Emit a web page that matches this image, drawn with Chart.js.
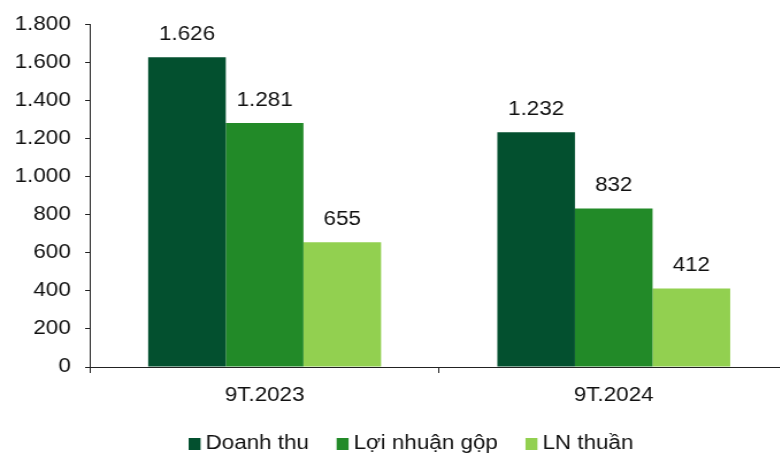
<!DOCTYPE html>
<html>
<head>
<meta charset="utf-8">
<script src="https://cdn.jsdelivr.net/npm/chart.js@4/dist/chart.umd.min.js"></script>
<style>
  html, body { margin: 0; padding: 0; background: #fff; overflow: hidden; }
  #wrap { position: relative; width: 790px; height: 455px; overflow: hidden; }
  #c { display: block; transform: scaleX(1.15); transform-origin: 0 0; }
</style>
</head>
<body>
<div id="wrap"><canvas id="c" width="687" height="455"></canvas></div>
<script>
const categories = ["9T.2023", "9T.2024"];
const seriesNames = ["Doanh thu", "Lợi nhuận gộp", "LN thuần"];
const doanhThu = [1626, 1232];
const loiNhuanGop = [1281, 832];
const lnThuan = [655, 412];
const seriesColors = ["#03502F", "#228A28", "#92D050"];
const yMin = 0, yMax = 1800, yStep = 200;

function fmt(v) {
  return String(Math.round(v)).replace(/\B(?=(\d{3})+(?!\d))/g, ".");
}

const FONT = "'Liberation Sans', Arial, sans-serif";
const FS = 19.5;

const valueLabels = {
  id: "valueLabels",
  afterDatasetsDraw(chart) {
    const ctx = chart.ctx;
    ctx.save();
    ctx.font = FS + "px " + FONT;
    ctx.fillStyle = "#111";
    ctx.textAlign = "center";
    ctx.textBaseline = "bottom";
    chart.data.datasets.forEach((ds, i) => {
      chart.getDatasetMeta(i).data.forEach((bar, j) => {
        ctx.fillText(fmt(ds.data[j]), bar.x, bar.y - 13);
      });
    });
    ctx.restore();
  }
};

const customLegend = {
  id: "customLegend",
  afterDraw(chart) {
    const ctx = chart.ctx;
    ctx.save();
    ctx.font = FS + "px " + FONT;
    ctx.textBaseline = "middle";
    ctx.textAlign = "left";
    const boxW = 10.4, boxH = 12, gapText = 4.3, gapItem = 24;
    const widths = seriesNames.map(n => boxW + gapText + ctx.measureText(n).width);
    const total = widths.reduce((a, b) => a + b, 0) + gapItem * (seriesNames.length - 1);
    const cx = 357.4;
    const cy = 444;
    let x = cx - total / 2;
    seriesNames.forEach((n, i) => {
      ctx.fillStyle = seriesColors[i];
      ctx.fillRect(x, cy - boxH / 2, boxW, boxH);
      ctx.fillStyle = "#111";
      ctx.fillText(n, x + boxW + gapText, cy);
      x += widths[i] + gapItem;
    });
    ctx.restore();
  }
};

new Chart(document.getElementById("c"), {
  type: "bar",
  data: {
    labels: categories,
    datasets: [
      { label: seriesNames[0], data: doanhThu, backgroundColor: seriesColors[0] },
      { label: seriesNames[1], data: loiNhuanGop, backgroundColor: seriesColors[1] },
      { label: seriesNames[2], data: lnThuan, backgroundColor: seriesColors[2] }
    ]
  },
  options: {
    responsive: false,
    animation: false,
    devicePixelRatio: 1,
    layout: { padding: { top: 16, right: 1.5, bottom: 50, left: 0 } },
    datasets: { bar: { categoryPercentage: 0.667, barPercentage: 1.0, borderWidth: 0 } },
    plugins: {
      legend: { display: false },
      tooltip: { enabled: false }
    },
    scales: {
      x: {
        grid: { display: true, drawOnChartArea: false, drawTicks: true, tickLength: 6, offset: true, color: "#222", lineWidth: 1 },
        border: { display: true, color: "#222", width: 1 },
        ticks: { color: "#111", font: { size: FS, family: FONT }, padding: 11 },
        afterFit(s) { s.height = 38; }
      },
      y: {
        min: yMin, max: yMax,
        ticks: { stepSize: yStep, color: "#111", font: { size: FS, family: FONT }, padding: 12.5, callback: v => fmt(v) },
        grid: { display: true, drawOnChartArea: false, drawTicks: true, tickLength: 4.3, color: "#222", lineWidth: 1 },
        border: { display: true, color: "#222", width: 1 },
        afterFit(s) { s.width = 78.3; }
      }
    }
  },
  plugins: [valueLabels, customLegend]
});
</script>
</body>
</html>
